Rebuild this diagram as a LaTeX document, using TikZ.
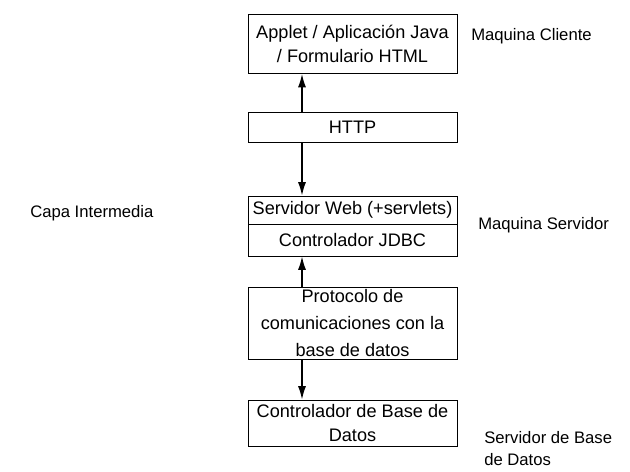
\documentclass[tikz,border=0pt]{standalone}
\usepackage{fontspec}
\setmainfont{Liberation Sans}
\usetikzlibrary{arrows.meta}
\begin{document}
\begin{tikzpicture}[x=0.75pt,y=-0.75pt,
  box/.style={draw=black,line width=0.7pt,rectangle,minimum width=209*0.75pt,inner sep=0pt,align=center,font=\fontsize{13.6}{18}\selectfont},
  lbl/.style={anchor=west,inner sep=0pt,align=left,font=\fontsize{12.5}{16.5}\selectfont},
  arr/.style={line width=1pt,-{Latex[length=10pt,width=6pt]}}]
\useasboundingbox (0,0) rectangle (630,471);
\node[box,minimum height=59*0.75pt] (app) at (352.5,44) {Applet / Aplicación Java\\/ Formulario HTML};
\node[box,minimum height=30*0.75pt] (http) at (352.5,127) {HTTP};
\node[box,minimum height=28*0.75pt] (web) at (352.5,210) {Servidor Web (+servlets)};
\node[box,minimum height=32*0.75pt] (jdbc) at (352.5,240) {Controlador JDBC};
\node[box,minimum height=72*0.75pt,font=\fontsize{13.6}{20}\selectfont] (proto) at (352.5,323) {Protocolo de\\comunicaciones con la\\base de datos};
\node[box,minimum height=46*0.75pt] (db) at (352.5,423) {Controlador de Base de\\Datos};
\coordinate (ax) at (302,0);
\draw[arr] (http.north -| ax) -- (app.south -| ax);
\draw[arr] (http.south -| ax) -- (web.north -| ax);
\draw[arr] (proto.north -| ax) -- (jdbc.south -| ax);
\draw[arr] (proto.south -| ax) -- (db.north -| ax);
\node[lbl] (cli) at (471,36) {Maquina Cliente};
\node[lbl] (capa) at (30,213) {Capa Intermedia};
\node[lbl] (serv) at (478,225) {Maquina Servidor};
\node[lbl] (sbd) at (484,449) {Servidor de Base\\de Datos};
\end{tikzpicture}
\end{document}
